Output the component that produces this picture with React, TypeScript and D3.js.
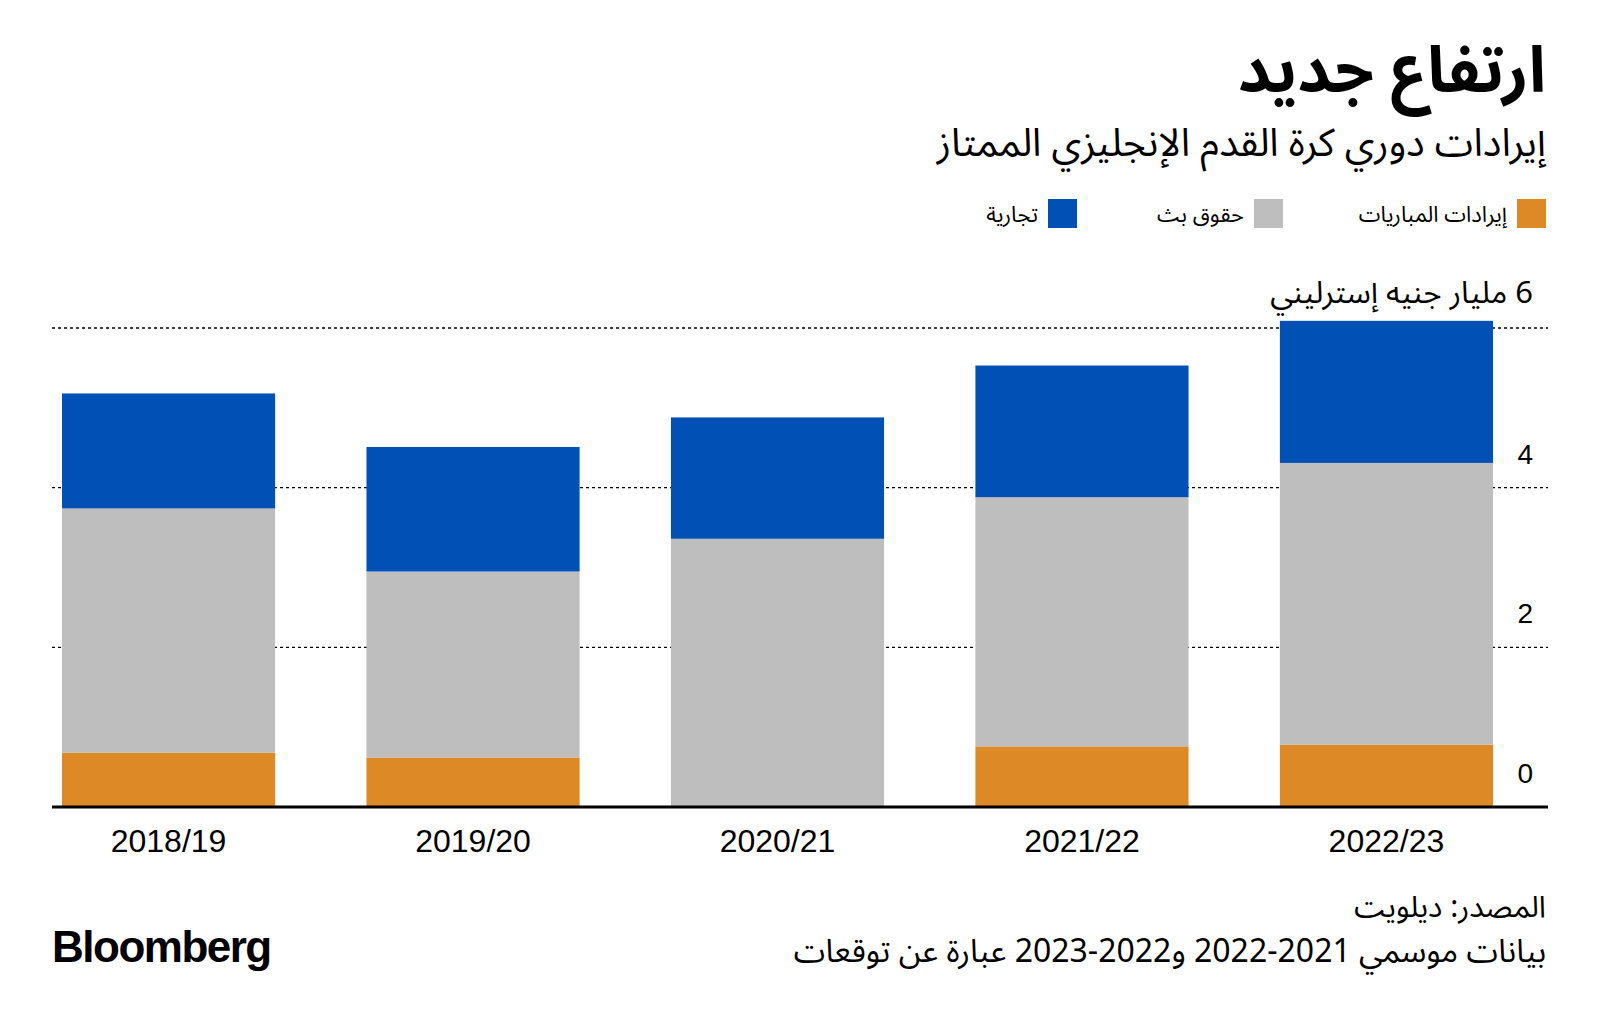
import * as d3 from 'd3';

const seasons = ['2018/19', '2019/20', '2020/21', '2021/22', '2022/23'];
const matchday = [0.68, 0.62, 0, 0.76, 0.78];
const broadcast = [3.06, 2.33, 3.36, 3.12, 3.53];
const commercial = [1.44, 1.56, 1.52, 1.65, 1.78];

const seriesKeys = ['matchday', 'broadcast', 'commercial'];
const seriesLabels = ['إيرادات المباريات', 'حقوق بث', 'تجارية'];
const seriesColors = ['#DD8A26', '#BEBEBE', '#0050B5'];
const yTicks = [0, 2, 4, 6];

const W = 1600;
const H = 1026;
const arabicFont = '"Noto Sans Arabic", "DejaVu Sans", "Noto Sans", sans-serif';
const latinFont = '"Liberation Sans", Arial, sans-serif';

export default function App() {
  const rows = seasons.map((s, i) => ({
    season: s,
    matchday: matchday[i],
    broadcast: broadcast[i],
    commercial: commercial[i],
  }));

  const stacked = d3.stack<any>().keys(seriesKeys)(rows);

  const x = d3.scaleBand<string>().domain(seasons).range([62, 1493]).paddingInner(0.3).paddingOuter(0);
  const y = d3.scaleLinear().domain([0, 6]).range([807, 328]);

  // legend positions (right edge of each swatch)
  const legendRight = [1546, 1283, 1077];

  return (
    <svg
      width={W}
      height={H}
      style={{ position: 'absolute', left: 0, top: 0, background: '#fff' }}
    >
      <rect width={W} height={H} fill="#fff" />

      {/* title */}
      <text x={1546} y={92} direction="rtl" textAnchor="start" fontFamily={arabicFont} fontWeight={700} fontSize={64} fill="#000">
        ارتفاع جديد
      </text>
      <text x={1546} y={156} direction="rtl" textAnchor="start" fontFamily={arabicFont} fontSize={39} fill="#000">
        إيرادات دوري كرة القدم الإنجليزي الممتاز
      </text>

      {/* legend */}
      {seriesLabels.map((lab, i) => (
        <g key={lab}>
          <rect x={legendRight[i] - 29} y={199} width={29} height={29} fill={seriesColors[i]} />
          <text
            x={legendRight[i] - 39}
            y={222}
            direction="rtl"
            textAnchor="start"
            fontFamily={arabicFont}
            fontSize={22}
            fill="#000"
          >
            {lab}
          </text>
        </g>
      ))}

      {/* gridlines */}
      {yTicks.filter((t) => t > 0).map((t) => (
        <line key={t} x1={52} x2={1548} y1={y(t)} y2={y(t)} stroke="#000" strokeWidth={1.4} strokeDasharray="3,3" />
      ))}

      {/* bars */}
      {stacked.map((layer, li) => (
        <g key={layer.key} fill={seriesColors[li]}>
          {layer.map((d, i) => (
            <rect
              key={i}
              x={x(seasons[i])}
              y={y(d[1])}
              width={x.bandwidth()}
              height={Math.max(0, y(d[0]) - y(d[1]))}
            />
          ))}
        </g>
      ))}

      {/* baseline */}
      <line x1={52} x2={1548} y1={y(0)} y2={y(0)} stroke="#000" strokeWidth={3} />

      {/* y tick labels */}
      {yTicks.filter((t) => t < 6).map((t) => (
        <text key={t} x={1533} y={y(t) - 24} textAnchor="end" fontFamily={latinFont} fontSize={28} fill="#000">
          {t}
        </text>
      ))}
      <text x={1533} y={y(6) - 25} direction="rtl" textAnchor="start" fontFamily={arabicFont} fontSize={31} fill="#000">
        6 مليار جنيه إسترليني
      </text>

      {/* x labels */}
      {seasons.map((s) => (
        <text key={s} x={(x(s) ?? 0) + x.bandwidth() / 2} y={852} textAnchor="middle" fontFamily={latinFont} fontSize={32} fill="#000">
          {s}
        </text>
      ))}

      {/* footer */}
      <text x={1546} y={917} direction="rtl" textAnchor="start" fontFamily={arabicFont} fontSize={30} fill="#000">
        المصدر: ديلويت
      </text>
      <text x={1546} y={962} direction="rtl" textAnchor="start" fontFamily={arabicFont} fontSize={32} fill="#000">
        بيانات موسمي 2021-2022 و2022-2023 عبارة عن توقعات
      </text>
      <text x={52} y={962} fontFamily={latinFont} fontWeight={700} fontSize={44} letterSpacing={-1.5} fill="#000">
        Bloomberg
      </text>
    </svg>
  );
}
